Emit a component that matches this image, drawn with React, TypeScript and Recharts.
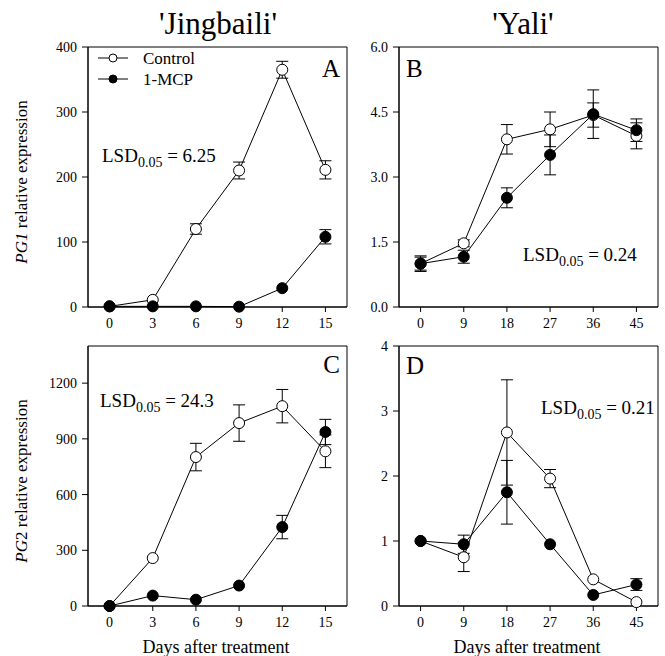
import {
  ComposedChart,
  Line,
  XAxis,
  YAxis,
  ErrorBar,
  ReferenceArea,
} from "recharts";

const daysJingbaili = [0, 3, 6, 9, 12, 15];
const daysYali = [0, 9, 18, 27, 36, 45];

// PG1, 'Jingbaili'
const pg1JControl = [1, 11, 120, 210, 365, 211];
const pg1JControlErr = [0, 0, 8, 13, 13, 14];
const pg1JMcp = [1, 1, 1, 0.5, 29, 108];
const pg1JMcpErr = [0, 0, 0, 0, 0, 11];

// PG1, 'Yali'
const pg1YControl = [1.0, 1.47, 3.87, 4.1, 4.43, 3.95];
const pg1YControlErr = [0.18, 0.08, 0.34, 0.4, 0.28, 0.3];
const pg1YMcp = [1.0, 1.16, 2.52, 3.51, 4.45, 4.08];
const pg1YMcpErr = [0.15, 0.15, 0.23, 0.46, 0.56, 0.26];

// PG2, 'Jingbaili'
const pg2JControl = [0, 258, 802, 985, 1076, 833];
const pg2JControlErr = [0, 0, 74, 98, 90, 88];
const pg2JMcp = [0, 56, 34, 110, 425, 937];
const pg2JMcpErr = [0, 0, 0, 0, 63, 68];

// PG2, 'Yali'
const pg2YControl = [1.0, 0.75, 2.67, 1.96, 0.41, 0.06];
const pg2YControlErr = [0, 0.22, 0.81, 0.14, 0, 0];
const pg2YMcp = [1.0, 0.95, 1.75, 0.95, 0.17, 0.33];
const pg2YMcpErr = [0, 0.14, 0.49, 0, 0, 0.09];

const ticksPg1J = [0, 100, 200, 300, 400];
const ticksPg1Y = [0, 1.5, 3, 4.5, 6];
const ticksPg2J = [0, 300, 600, 900, 1200];
const ticksPg2Y = [0, 1, 2, 3, 4];

const FONT = "'Liberation Serif', 'Times New Roman', serif";

function buildData(days: number[], control: number[], controlErr: number[], mcp: number[], mcpErr: number[]) {
  return days.map((d, i) => ({
    day: d,
    control: control[i],
    controlErr: controlErr[i] || undefined,
    mcp: mcp[i],
    mcpErr: mcpErr[i] || undefined,
  }));
}

interface PanelProps {
  data: any[];
  days: number[];
  xDomain: [number, number];
  yDomain: [number, number];
  yTicks: number[];
  yFormat?: (v: number) => string;
  width: number;
  height: number;
  margin: { top: number; right: number; bottom: number; left: number };
  yWidth: number;
  left: number;
  top: number;
}

function Panel({ data, days, xDomain, yDomain, yTicks, yFormat, width, height, margin, yWidth, left, top }: PanelProps) {
  const tickStyle = { fill: "#000", fontSize: 14, fontFamily: FONT };
  return (
    <div style={{ position: "absolute", left, top }}>
      <ComposedChart width={width} height={height} data={data} margin={margin}>
        <XAxis
          type="number"
          dataKey="day"
          domain={xDomain}
          ticks={days}
          interval={0}
          stroke="#000"
          tick={tickStyle}
          tickSize={5}
          tickMargin={6}
          height={24}
        />
        <YAxis
          type="number"
          domain={yDomain}
          ticks={yTicks}
          interval={0}
          stroke="#000"
          tick={tickStyle}
          tickSize={6}
          tickMargin={5}
          width={yWidth}
          tickFormatter={yFormat}
        />
        <ReferenceArea
          x1={xDomain[0]}
          x2={xDomain[1]}
          y1={yDomain[0]}
          y2={yDomain[1]}
          fill="none"
          fillOpacity={0}
          stroke="#000"
          strokeWidth={1}
        />
        <Line
          type="linear"
          dataKey="control"
          stroke="#000"
          strokeWidth={1}
          dot={{ r: 5.5, fill: "#fff", stroke: "#000", strokeWidth: 1 }}
          isAnimationActive={false}
        >
          <ErrorBar dataKey="controlErr" width={6} stroke="#000" strokeWidth={1} direction="y" />
        </Line>
        <Line
          type="linear"
          dataKey="mcp"
          stroke="#000"
          strokeWidth={1}
          dot={{ r: 5.5, fill: "#000", stroke: "#000", strokeWidth: 1 }}
          isAnimationActive={false}
        >
          <ErrorBar dataKey="mcpErr" width={6} stroke="#000" strokeWidth={1} direction="y" />
        </Line>
      </ComposedChart>
    </div>
  );
}

function Lsd({ x, y, value }: { x: number; y: number; value: string }) {
  return (
    <text x={x} y={y} fontSize={19} fontFamily={FONT} fill="#000">
      LSD
      <tspan fontSize={14} dy={5}>0.05</tspan>
      <tspan dy={-5}>{` = ${value}`}</tspan>
    </text>
  );
}

export default function App() {
  const dataA = buildData(daysJingbaili, pg1JControl, pg1JControlErr, pg1JMcp, pg1JMcpErr);
  const dataB = buildData(daysYali, pg1YControl, pg1YControlErr, pg1YMcp, pg1YMcpErr);
  const dataC = buildData(daysJingbaili, pg2JControl, pg2JControlErr, pg2JMcp, pg2JMcpErr);
  const dataD = buildData(daysYali, pg2YControl, pg2YControlErr, pg2YMcp, pg2YMcpErr);

  return (
    <div style={{ position: "absolute", left: 0, top: 0, width: 665, height: 656, background: "#fff", overflow: "hidden" }}>
      <Panel
        data={dataA}
        days={daysJingbaili}
        xDomain={[-1.5, 16.5]}
        yDomain={[0, 400]}
        yTicks={ticksPg1J}
        width={350}
        height={331}
        margin={{ top: 47, right: 3, bottom: 0, left: 38 }}
        yWidth={50}
        left={0}
        top={0}
      />
      <Panel
        data={dataB}
        days={daysYali}
        xDomain={[-4.5, 49.5]}
        yDomain={[0, 6]}
        yTicks={ticksPg1Y}
        yFormat={(v) => v.toFixed(1)}
        width={315}
        height={331}
        margin={{ top: 47, right: 7, bottom: 0, left: 4 }}
        yWidth={45}
        left={350}
        top={0}
      />
      <Panel
        data={dataC}
        days={daysJingbaili}
        xDomain={[-1.5, 16.5]}
        yDomain={[0, 1400]}
        yTicks={ticksPg2J}
        width={350}
        height={300}
        margin={{ top: 16, right: 3, bottom: 0, left: 38 }}
        yWidth={50}
        left={0}
        top={330}
      />
      <Panel
        data={dataD}
        days={daysYali}
        xDomain={[-4.5, 49.5]}
        yDomain={[0, 4]}
        yTicks={ticksPg2Y}
        width={315}
        height={300}
        margin={{ top: 16, right: 7, bottom: 0, left: 4 }}
        yWidth={45}
        left={350}
        top={330}
      />
      <svg
        width={665}
        height={656}
        style={{ position: "absolute", left: 0, top: 0, pointerEvents: "none" }}
      >
        <text x={218} y={34} fontSize={31} fontFamily={FONT} textAnchor="middle" fill="#000">'Jingbaili'</text>
        <text x={523} y={34} fontSize={31} fontFamily={FONT} textAnchor="middle" fill="#000">'Yali'</text>

        <text x={340} y={77} fontSize={25} fontFamily={FONT} textAnchor="end" fill="#000">A</text>
        <text x={406} y={77} fontSize={25} fontFamily={FONT} fill="#000">B</text>
        <text x={340} y={373} fontSize={25} fontFamily={FONT} textAnchor="end" fill="#000">C</text>
        <text x={406} y={374} fontSize={25} fontFamily={FONT} fill="#000">D</text>

        <Lsd x={102} y={162} value="6.25" />
        <Lsd x={523} y={261} value="0.24" />
        <Lsd x={100} y={407} value="24.3" />
        <Lsd x={541} y={414} value="0.21" />

        {/* legend */}
        <line x1={98} x2={128} y1={58} y2={58} stroke="#000" strokeWidth={1} />
        <circle cx={113} cy={58} r={4} fill="#fff" stroke="#000" strokeWidth={1} />
        <text x={143} y={64} fontSize={17} fontFamily={FONT} fill="#000">Control</text>
        <line x1={98} x2={128} y1={79} y2={79} stroke="#000" strokeWidth={1} />
        <circle cx={113} cy={79} r={4} fill="#000" stroke="#000" strokeWidth={1} />
        <text x={143} y={85} fontSize={17} fontFamily={FONT} fill="#000">1-MCP</text>

        <text transform="translate(27,182) rotate(-90)" fontSize={17} fontFamily={FONT} textAnchor="middle" fill="#000">
          <tspan fontStyle="italic">PG1</tspan> relative expression
        </text>
        <text transform="translate(27,481) rotate(-90)" fontSize={17} fontFamily={FONT} textAnchor="middle" fill="#000">
          <tspan fontStyle="italic">PG</tspan>2 relative expression
        </text>

        <text x={216} y={653} fontSize={18} fontFamily={FONT} textAnchor="middle" fill="#000">Days after treatment</text>
        <text x={527} y={653} fontSize={18} fontFamily={FONT} textAnchor="middle" fill="#000">Days after treatment</text>
      </svg>
    </div>
  );
}
